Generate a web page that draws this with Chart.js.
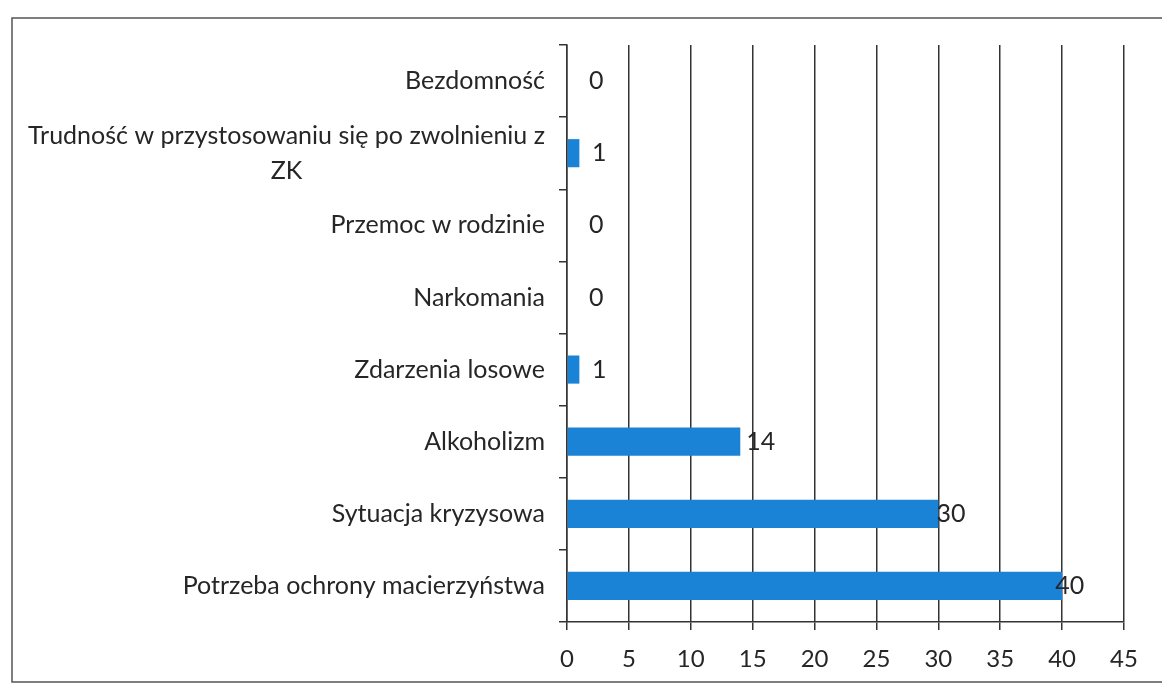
<!DOCTYPE html>
<html>
<head>
<meta charset="utf-8">
<script src="https://cdn.jsdelivr.net/npm/chart.js@4"></script>
<style>
  html, body { margin: 0; padding: 0; background: #fff; }
  #wrap { width: 1162px; height: 685px; }
</style>
</head>
<body>
<div id="wrap"><canvas id="powodyChart" width="1162" height="685"></canvas></div>
<script>
// categories top to bottom, multi-line label given as array
const categories = [
    'Bezdomność',
    ['Trudność w przystosowaniu się po zwolnieniu z', 'ZK'],
    'Przemoc w rodzinie',
    'Narkomania',
    'Zdarzenia losowe',
    'Alkoholizm',
    'Sytuacja kryzysowa',
    'Potrzeba ochrony macierzyństwa'
];
const values = [0, 1, 0, 0, 1, 14, 30, 40];
const xMin = 0;
const xMax = 45;
const xStep = 5;

const FONT = 'Lato, "Open Sans", sans-serif';
const textColor = '#262626';
const lineColor = '#333';

// frame round the whole chart (right side runs off the scan)
const framePlugin = {
    id: 'frame',
    beforeDraw(chart) {
        const ctx = chart.ctx;
        ctx.save();
        ctx.fillStyle = '#fff';
        ctx.fillRect(0, 0, chart.width, chart.height);
        ctx.strokeStyle = '#555';
        ctx.lineWidth = 1.5;
        ctx.beginPath();
        ctx.moveTo(chart.width + 5, 18);
        ctx.lineTo(12, 18);
        ctx.lineTo(12, 682);
        ctx.lineTo(chart.width + 5, 682);
        ctx.stroke();
        ctx.restore();
    }
};

// category labels, block right-aligned, lines centred to each other
const categoryLabels = {
    id: 'categoryLabels',
    afterDraw(chart) {
        const ctx = chart.ctx;
        const yScale = chart.scales.y;
        const right = chart.chartArea.left - 22;
        const lineH = 35;
        ctx.save();
        ctx.font = '25px ' + FONT;
        ctx.fillStyle = textColor;
        ctx.textBaseline = 'middle';
        ctx.textAlign = 'center';
        categories.forEach((label, i) => {
            const lines = Array.isArray(label) ? label : [label];
            const blockW = Math.max(...lines.map(l => ctx.measureText(l).width));
            const cx = right - blockW / 2;
            const y0 = yScale.getPixelForValue(i) - (lines.length - 1) * lineH / 2;
            lines.forEach((l, j) => ctx.fillText(l, cx, y0 + j * lineH));
        });
        ctx.restore();
    }
};

// value labels next to the bars
const valueLabels = {
    id: 'valueLabels',
    afterDatasetsDraw(chart) {
        const ctx = chart.ctx;
        const xScale = chart.scales.x;
        const zeroX = xScale.getPixelForValue(0);
        const meta = chart.getDatasetMeta(0);
        ctx.save();
        ctx.font = '25px ' + FONT;
        ctx.fillStyle = textColor;
        ctx.textBaseline = 'middle';
        ctx.textAlign = 'left';
        meta.data.forEach((bar, i) => {
            const v = values[i];
            // the original export places labels a bit short of the bar end on long bars
            const x = Math.max(zeroX + 22, xScale.getPixelForValue(v * 0.96) + 13);
            ctx.fillText(String(v), x, bar.y);
        });
        ctx.restore();
    }
};

const ctx = document.getElementById('powodyChart').getContext('2d');
new Chart(ctx, {
    type: 'bar',
    data: {
        labels: categories,
        datasets: [{
            data: values,
            backgroundColor: '#1a83d6',
            borderWidth: 0,
            barPercentage: 0.39,
            categoryPercentage: 1
        }]
    },
    options: {
        indexAxis: 'y',
        responsive: false,
        animation: false,
        layout: { padding: { top: 45, right: 38, bottom: 0, left: 0 } },
        plugins: {
            legend: { display: false },
            tooltip: { enabled: false }
        },
        scales: {
            y: {
                type: 'category',
                offset: true,
                afterFit(scale) { scale.width = 567; },
                ticks: { display: false },
                grid: {
                    offset: true,
                    drawOnChartArea: false,
                    drawTicks: true,
                    tickLength: 8,
                    color: lineColor,
                    lineWidth: 1.5
                },
                border: { color: lineColor, width: 1.5 }
            },
            x: {
                min: xMin,
                max: xMax,
                afterFit(scale) { scale.height = 63; },
                ticks: {
                    stepSize: xStep,
                    padding: 15,
                    color: textColor,
                    font: { family: FONT, size: 24 }
                },
                grid: {
                    color: lineColor,
                    lineWidth: 1.5,
                    tickLength: 8
                },
                border: { color: lineColor, width: 1.5 }
            }
        }
    },
    plugins: [framePlugin, categoryLabels, valueLabels]
});
</script>
</body>
</html>
